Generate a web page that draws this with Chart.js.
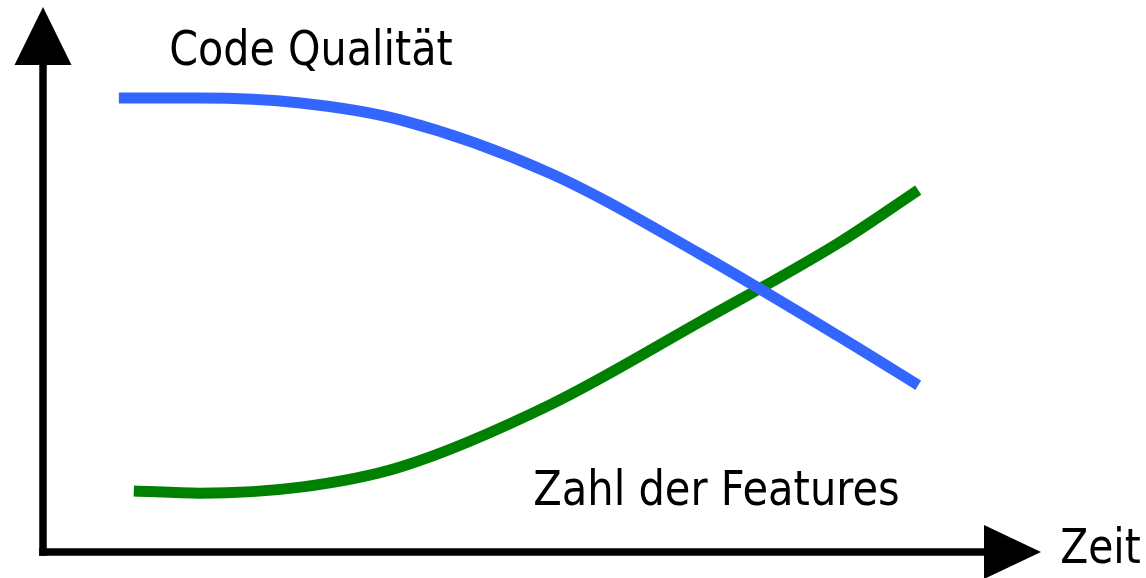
<!DOCTYPE html>
<html>
<head>
<meta charset="utf-8">
<script src="https://cdn.jsdelivr.net/npm/chart.js@4/dist/chart.umd.min.js"></script>
<style>
  html, body { margin: 0; padding: 0; background: #fff; }
  canvas { display: block; }
</style>
</head>
<body>
<canvas id="chart" width="1146" height="578"></canvas>
<script>
// values (x = time, y = level, both 0..100)
const qualityX = [7.6, 15.7, 25.8, 35.8, 50.8, 65.8, 79.9, 87.7];
const qualityY = [83.3, 83.3, 82.4, 79.3, 69.5, 54.7, 39.4, 30.6];

const featuresX = [9.1, 15.7, 25.8, 35.8, 50.8, 65.8, 79.9, 87.7];
const featuresY = [11.2, 10.8, 11.9, 15.6, 27.0, 42.2, 56.9, 66.4];

const seriesNames = ["Code Qualität", "Zahl der Features"];
const axisName = "Zeit";

function points(xs, ys) {
  return xs.map((x, i) => ({ x: x, y: ys[i] }));
}

// draws both axes as thick lines ending in arrow heads
const axisArrows = {
  id: "axisArrows",
  beforeDatasetsDraw(chart) {
    const { ctx, chartArea: a } = chart;
    const half = 3.75;
    ctx.save();
    ctx.fillStyle = "#000";
    // shafts
    ctx.fillRect(a.left - half, a.top + 50, half * 2, a.bottom - a.top - 50 + half);
    ctx.fillRect(a.left - half, a.bottom - half, a.right - a.left - 50, half * 2);
    // y arrow head
    ctx.beginPath();
    ctx.moveTo(a.left, a.top);
    ctx.lineTo(a.left + 28.5, a.top + 58);
    ctx.lineTo(a.left - 28.5, a.top + 58);
    ctx.closePath();
    ctx.fill();
    // x arrow head
    ctx.beginPath();
    ctx.moveTo(a.right, a.bottom);
    ctx.lineTo(a.right - 57, a.bottom - 27);
    ctx.lineTo(a.right - 57, a.bottom + 27);
    ctx.closePath();
    ctx.fill();
    ctx.restore();
  }
};

// labels, squeezed to the width of the narrow face in the picture
const labels = {
  id: "labels",
  afterDraw(chart, args, opts) {
    const ctx = chart.ctx;
    ctx.save();
    ctx.fillStyle = "#000";
    ctx.font = "48px 'DejaVu Sans'";
    ctx.textBaseline = "alphabetic";
    opts.items.forEach(it => {
      const m = ctx.measureText(it.text);
      const ink = m.actualBoundingBoxLeft + m.actualBoundingBoxRight;
      const sx = it.width / ink;
      ctx.save();
      ctx.translate(it.left + m.actualBoundingBoxLeft * sx, it.baseline);
      ctx.scale(sx, 1);
      ctx.fillText(it.text, 0, 0);
      ctx.restore();
    });
    ctx.restore();
  }
};

new Chart(document.getElementById("chart"), {
  type: "line",
  data: {
    datasets: [
      {
        label: seriesNames[0],
        data: points(qualityX, qualityY),
        borderColor: "#3366ff",
        borderWidth: 11,
        borderCapStyle: "butt",
        cubicInterpolationMode: "monotone",
        pointRadius: 0,
        fill: false
      },
      {
        label: seriesNames[1],
        data: points(featuresX, featuresY),
        borderColor: "#008000",
        borderWidth: 11,
        borderCapStyle: "butt",
        cubicInterpolationMode: "monotone",
        pointRadius: 0,
        fill: false
      }
    ]
  },
  options: {
    responsive: false,
    animation: false,
    layout: {
      padding: { left: 43, top: 7, right: 105, bottom: 26 }
    },
    scales: {
      x: { type: "linear", min: 0, max: 100, display: false },
      y: { min: 0, max: 100, display: false }
    },
    plugins: {
      legend: { display: false },
      tooltip: { enabled: false },
      labels: {
        items: [
          { text: seriesNames[0], left: 171, baseline: 65, width: 281 },
          { text: seriesNames[1], left: 535, baseline: 505, width: 363 },
          { text: axisName, left: 1062, baseline: 563, width: 78 }
        ]
      }
    }
  },
  plugins: [axisArrows, labels]
});
</script>
</body>
</html>
